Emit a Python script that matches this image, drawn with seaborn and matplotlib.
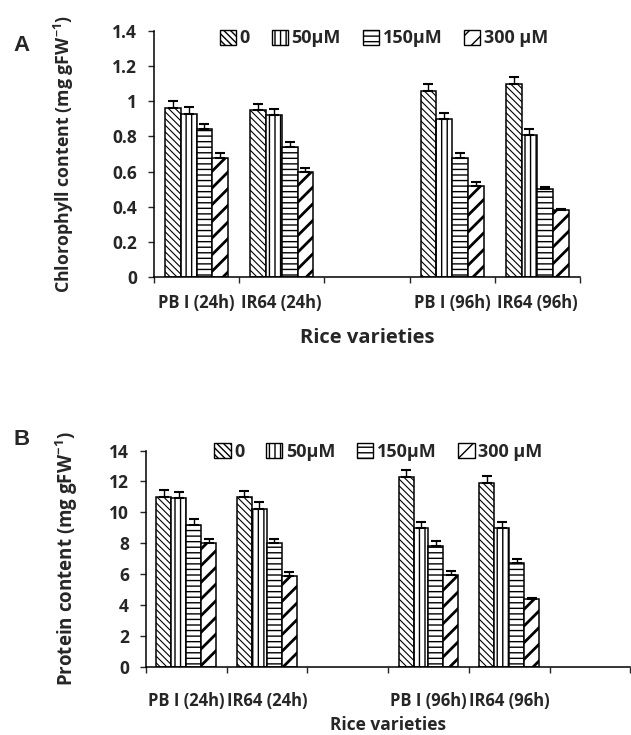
import numpy as np
import pandas as pd
import matplotlib
matplotlib.use("Agg")
import matplotlib.pyplot as plt
from matplotlib.patches import Patch
import seaborn as sns

# data
varieties = ["PB I (24h)", "IR64 (24h)", "PB I (96h)", "IR64 (96h)"]
doses = ["0", "50µM", "150µM", "300 µM"]

chl_0 = [0.96, 0.95, 1.06, 1.10]
chl_50 = [0.93, 0.92, 0.90, 0.81]
chl_150 = [0.84, 0.74, 0.675, 0.50]
chl_300 = [0.675, 0.60, 0.52, 0.38]
chl_err_0 = [0.04, 0.035, 0.04, 0.04]
chl_err_50 = [0.035, 0.035, 0.035, 0.03]
chl_err_150 = [0.03, 0.03, 0.03, 0.015]
chl_err_300 = [0.03, 0.02, 0.02, 0.01]

prot_0 = [11.0, 11.0, 12.3, 11.9]
prot_50 = [10.9, 10.25, 9.0, 9.0]
prot_150 = [9.2, 8.0, 7.85, 6.75]
prot_300 = [8.0, 5.9, 5.95, 4.4]
prot_err_0 = [0.45, 0.4, 0.45, 0.45]
prot_err_50 = [0.4, 0.4, 0.35, 0.35]
prot_err_150 = [0.35, 0.3, 0.3, 0.25]
prot_err_300 = [0.3, 0.25, 0.25, 0.05]

order_a = ["PB I (24h)", "IR64 (24h)", " ", "PB I (96h)", "IR64 (96h)"]
order_b = ["PB I (24h)", "IR64 (24h)", " ", "PB I (96h)", "IR64 (96h)", "  "]
hatches = ["\\\\\\\\\\", "|||", "---", "//"]
hatch_lw = [0.8, 1.0, 1.0, 2.0]


def long_table(vals, errs):
    rows = []
    for d, v, e in zip(doses, vals, errs):
        for var, vi, ei in zip(varieties, v, e):
            rows.append({"variety": var, "dose": d, "value": vi, "err": ei})
    return pd.DataFrame(rows)


chl = long_table([chl_0, chl_50, chl_150, chl_300],
                 [chl_err_0, chl_err_50, chl_err_150, chl_err_300])
prot = long_table([prot_0, prot_50, prot_150, prot_300],
                  [prot_err_0, prot_err_50, prot_err_150, prot_err_300])

sns.set_style("ticks")
plt.rcParams["font.family"] = ["Open Sans", "DejaVu Sans"]
plt.rcParams["font.weight"] = "bold"
plt.rcParams["mathtext.fontset"] = "custom"
plt.rcParams["mathtext.bf"] = "Open Sans:bold"
plt.rcParams["mathtext.rm"] = "Open Sans:bold"
plt.rcParams["hatch.linewidth"] = 1.0

fig = plt.figure(figsize=(6.31, 7.35), dpi=100)
ax_a = fig.add_axes([0.244, 0.623, 0.675, 0.335])
ax_b = fig.add_axes([0.231, 0.0925, 0.768, 0.2945])


def draw(ax, df, order, ylim, yticks, ylabels, ylabel, yl_size, yl_pad,
         xl_size, xl_pad, tick_pad, leg_pos):
    sns.barplot(data=df, x="variety", y="value", hue="dose", order=order,
                hue_order=doses, palette=["white"] * 4, edgecolor="black",
                linewidth=1.1, width=0.74, errorbar=None, legend=False,
                saturation=1, ax=ax)
    errs = {(r.variety, r.dose): r.err for r in df.itertuples()}
    bar_conts = list(ax.containers)
    for i, cont in enumerate(bar_conts):
        for bar in cont.patches:
            bar.set_hatch(hatches[i])
            if hasattr(bar, "set_hatch_linewidth"):
                bar.set_hatch_linewidth(hatch_lw[i])
            xc = bar.get_x() + bar.get_width() / 2
            h = bar.get_height()
            key = (order[int(round(xc))], doses[i])
            if key not in errs:
                continue
            ax.errorbar(xc, h, yerr=[[0], [errs[key]]], fmt="none", ecolor="black",
                        elinewidth=1.0, capsize=3.5, capthick=1.5)
    n = len(order)
    ax.set_xlim(-0.5, n - 0.5)
    ax.set_ylim(*ylim)
    ax.set_xticks(range(n))
    ax.set_xticklabels(order, fontsize=12, fontweight="bold")
    ax.set_xticks(np.arange(-0.5, n, 1.0), minor=True)
    ax.tick_params(axis="x", which="major", length=0, pad=tick_pad)
    ax.tick_params(axis="x", which="minor", length=4, width=1, direction="out")
    ax.set_yticks(yticks)
    ax.set_yticklabels(ylabels, fontsize=12.5, fontweight="bold")
    ax.tick_params(axis="y", length=4, width=1, pad=8)
    for s in ["left", "bottom"]:
        ax.spines[s].set_color("black")
        ax.spines[s].set_linewidth(1.1)
    sns.despine(ax=ax)
    ax.set_xlabel("Rice varieties", fontsize=xl_size, fontweight="bold",
                  labelpad=xl_pad)
    ax.set_ylabel(ylabel, fontsize=yl_size, fontweight="bold", labelpad=yl_pad)
    handles = [Patch(facecolor="white", edgecolor="black", hatch=h, linewidth=1)
               for h in hatches]
    ax.legend(handles, doses, loc="center", bbox_to_anchor=leg_pos, ncol=4,
              frameon=False, handlelength=0.9, handleheight=0.9,
              handletextpad=0.2, columnspacing=1.2,
              prop={"size": 13, "weight": "bold"})


draw(ax_a, chl, order_a, (0, 1.4), np.arange(0, 1.41, 0.2),
     ["0", "0.2", "0.4", "0.6", "0.8", "1", "1.2", "1.4"],
     "Chlorophyll content (mg gFW$^{\\mathbf{-1}}$)", 12.8, 26,
     14.5, 12, 12, (0.54, 0.97))
draw(ax_b, prot, order_b, (0, 14), np.arange(0, 15, 2),
     [str(v) for v in range(0, 15, 2)],
     "Protein content (mg gFW$^{\\mathbf{-1}}$)", 13.5, 21,
     12.5, 4, 18, (0.48, 0.995))

fig.text(0.022, 0.93, "A", fontsize=16, fontweight="bold", family="Liberation Sans")
fig.text(0.022, 0.395, "B", fontsize=16, fontweight="bold", family="Liberation Sans")

fig.savefig("out.png", dpi=100)
